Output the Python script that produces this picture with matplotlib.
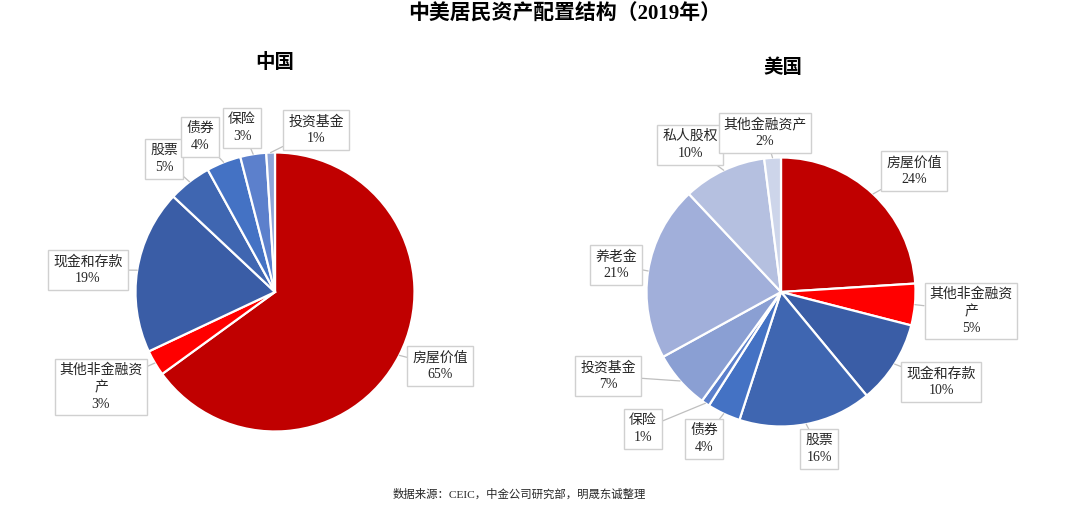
import numpy as np
import matplotlib
matplotlib.use("Agg")
import matplotlib.pyplot as plt

plt.rcParams['font.family'] = ['Liberation Serif', 'Noto Sans CJK SC', 'DejaVu Sans']

# ---- data ----
title = "中美居民资产配置结构（2019年）"
source = "数据来源：CEIC，中金公司研究部，明晟东诚整理"

cn_title = "中国"
cn_labels = ["房屋价值", "其他非金融资\n产", "现金和存款", "股票", "债券", "保险", "投资基金"]
cn_values = [65, 3, 19, 5, 4, 3, 1]
cn_colors = ["#C00000", "#FF0000", "#3A5DA6", "#3F66B1", "#4472C4", "#5C80CC", "#8FA5D8"]

us_title = "美国"
us_labels = ["房屋价值", "其他非金融资\n产", "现金和存款", "股票", "债券", "保险",
             "投资基金", "养老金", "私人股权", "其他金融资产"]
us_values = [24, 5, 10, 16, 4, 1, 7, 21, 10, 2]
us_colors = ["#C00000", "#FF0000", "#3A5DA6", "#3F66B1", "#4472C4", "#5B7FCB",
             "#8A9FD3", "#A1AFDA", "#B5C0E0", "#CDD5EA"]

# ---- layout (pixel coords, y from top) ----
W, H = 1080, 508
cn_center, cn_radius = (275, 292), 139.5
us_center, us_radius = (781, 292), 134.5
cn_label_pos = [(440, 366), (101, 387), (88, 270), (164, 159), (200, 137), (242, 128), (316, 130)]
us_label_pos = [(914, 171), (971, 311), (941, 382), (819, 449), (704, 439), (643, 429),
                (608, 376), (616, 265), (690, 145), (765, 133)]

fig = plt.figure(figsize=(W / 100, H / 100), dpi=100)
ax = fig.add_axes([0, 0, 1, 1])


def draw_pie(values, labels, colors, center, radius, label_pos):
    cx, cy = center[0], H - center[1]
    ax.pie(values, colors=colors, startangle=90, counterclock=False,
           center=(cx, cy), radius=radius,
           wedgeprops=dict(edgecolor='white', linewidth=1.6))
    total = float(sum(values))
    cum = 0.0
    for v, lab, (lx, ly) in zip(values, labels, label_pos):
        theta = np.deg2rad(90 - 360 * (cum + v / 2) / total)
        cum += v
        px = cx + radius * np.cos(theta)
        py = cy + radius * np.sin(theta)
        ax.annotate(f"{lab}\n{v}%", xy=(px, py), xytext=(lx, H - ly),
                    ha='center', va='center', fontsize=10, color='#262626',
                    linespacing=1.35,
                    bbox=dict(boxstyle='square,pad=0.35', fc='white', ec='#D0D0D0', lw=1),
                    arrowprops=dict(arrowstyle='-', color='#BFBFBF', lw=0.9,
                                    shrinkA=0, shrinkB=0))


draw_pie(cn_values, cn_labels, cn_colors, cn_center, cn_radius, cn_label_pos)
draw_pie(us_values, us_labels, us_colors, us_center, us_radius, us_label_pos)

ax.set_xlim(0, W)
ax.set_ylim(0, H)
ax.set_aspect('equal')
ax.axis('off')

ax.text(565, H - 15, title, ha='center', va='center', fontsize=15, fontweight='bold', color='black')
ax.text(275, H - 62, cn_title, ha='center', va='center', fontsize=14, fontweight='bold', color='black')
ax.text(783, H - 68, us_title, ha='center', va='center', fontsize=14, fontweight='bold', color='black')
ax.text(519, H - 494, source, ha='center', va='center', fontsize=8.2, color='#262626')

fig.savefig("out.png", dpi=100)
